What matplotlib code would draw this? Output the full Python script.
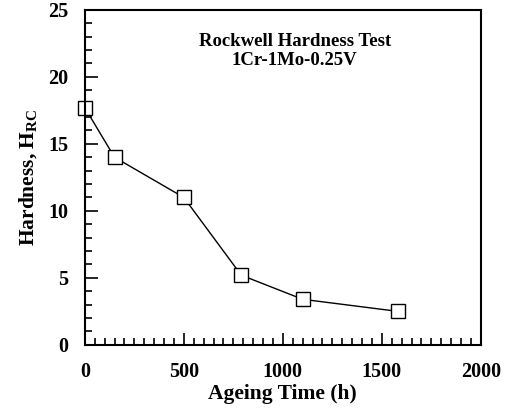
import matplotlib
matplotlib.use('Agg')
import matplotlib.pyplot as plt
from matplotlib.ticker import MultipleLocator

ageing_time = [0, 150, 500, 790, 1100, 1580]
hardness = [17.7, 14.0, 11.0, 5.2, 3.4, 2.5]

plt.rcParams['font.family'] = ['Liberation Serif', 'DejaVu Serif']
plt.rcParams['font.weight'] = 'bold'
plt.rcParams['mathtext.fontset'] = 'custom'
plt.rcParams['mathtext.rm'] = 'Liberation Serif'
plt.rcParams['mathtext.bf'] = 'Liberation Serif:bold'

fig = plt.figure(figsize=(5.11, 4.12), dpi=100)
ax = fig.add_axes([0.166, 0.163, 0.775, 0.813])

ax.plot(ageing_time, hardness, color='black', linewidth=1.0,
        marker='s', markersize=10, markerfacecolor='white',
        markeredgecolor='black', markeredgewidth=1.0, clip_on=False)

ax.set_xlim(0, 2000)
ax.set_ylim(0, 25)
ax.xaxis.set_major_locator(MultipleLocator(500))
ax.xaxis.set_minor_locator(MultipleLocator(50))
ax.yaxis.set_major_locator(MultipleLocator(5))
ax.yaxis.set_minor_locator(MultipleLocator(1))
ax.tick_params(which='both', direction='in', top=False, right=False,
               labelsize=14.5, width=1.2)
ax.tick_params(which='major', length=9, pad=12)
ax.tick_params(which='minor', length=5)
for s in ax.spines.values():
    s.set_linewidth(1.5)

ax.set_xlabel('Ageing Time (h)', fontsize=15.5, fontweight='bold', labelpad=2)
ax.set_ylabel('Hardness, H$_{\\mathbf{RC}}$', fontsize=15.5, fontweight='bold', labelpad=6)

ax.text(0.53, 0.93, 'Rockwell Hardness Test\n1Cr-1Mo-0.25V', transform=ax.transAxes,
        ha='center', va='top', fontsize=13.5, fontweight='bold', linespacing=1.1)

plt.savefig('out.png', dpi=100)
plt.close()
